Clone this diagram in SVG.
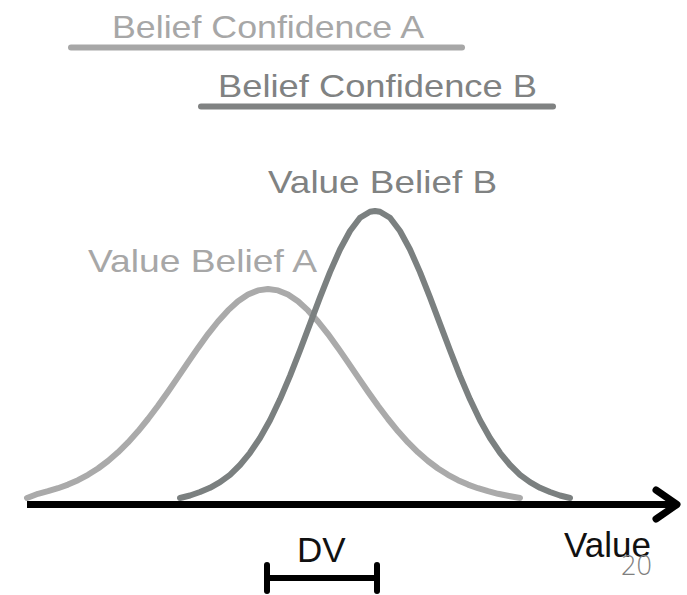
<svg xmlns="http://www.w3.org/2000/svg" width="687" height="595" viewBox="0 0 687 595">
<style>
.lbl{font-family:"Liberation Sans",Arial,sans-serif;font-size:32px}
.ga{fill:#a7a7a7}
.gb{fill:#808282}
.blk{font-family:"Liberation Sans",Arial,sans-serif;font-size:35px;fill:#111}
.curve{fill:none;stroke-width:6;stroke-linejoin:round;stroke-linecap:round}
.bar{stroke-width:6;stroke-linecap:round;fill:none}
</style>
<rect width="687" height="595" fill="#fff"/>
<g id="confA">
<text class="lbl ga" x="112" y="38" textLength="312" lengthAdjust="spacingAndGlyphs">Belief Confidence A</text>
<line class="bar" x1="71" y1="47.5" x2="462" y2="47.5" stroke="#a7a7a7"/>
</g>
<g id="confB">
<text class="lbl gb" x="218" y="97" textLength="319" lengthAdjust="spacingAndGlyphs">Belief Confidence B</text>
<line class="bar" x1="201" y1="106.5" x2="553" y2="106.5" stroke="#808282"/>
</g>
<g id="beliefA">
<text class="lbl ga" x="88" y="272" textLength="229" lengthAdjust="spacingAndGlyphs">Value Belief A</text>
<path class="curve" stroke="#aaaaaa" d="M27,498 L38,493.8 L48,491.2 L58,488.2 L68,484.6 L78,480.2 L88,474.8 L98,468.5 L108,461 L118,452.3 L128,442.4 L138,431.3 L148,419 L158,405.8 L168,391.7 L178,377.1 L188,362.4 L198,347.9 L208,334.1 L218,321.5 L228,310.4 L238,301.3 L248,294.6 L258,290.4 L268,289 L278,290.4 L288,294.6 L298,301.3 L308,310.4 L318,321.5 L328,334.1 L338,347.9 L348,362.4 L358,377.1 L368,391.7 L378,405.8 L388,419 L398,431.3 L408,442.4 L418,452.3 L428,461 L438,468.5 L448,474.8 L458,480.2 L468,484.6 L478,488.2 L488,491.2 L498,493.8 L509,496 L520,498"/>
</g>
<g id="beliefB">
<text class="lbl gb" x="268" y="193" textLength="229" lengthAdjust="spacingAndGlyphs">Value Belief B</text>
<path class="curve" stroke="#7b8080" d="M180,498 L190,495.5 L200,492 L210,487.8 L220,482.2 L230,474.8 L240,465 L250,452.8 L260,438 L270,420.2 L280,399.3 L290,375.8 L300,350.3 L310,323.9 L320,297.4 L330,272.1 L340,249.5 L350,231 L360,217.8 L370,211.8 L375,211 L380,211.8 L390,217.8 L400,231 L410,249.5 L420,272.1 L430,297.4 L440,323.9 L450,350.3 L460,375.8 L470,399.3 L480,420.2 L490,438 L500,452.8 L510,465 L520,474.8 L530,482.2 L540,487.8 L550,492 L560,495.5 L570,498"/>
</g>
<g id="axis">
<line x1="27" y1="504.5" x2="675" y2="504.5" stroke="#000" stroke-width="7"/>
<polyline points="656,490 677,504.5 656,519" fill="none" stroke="#000" stroke-width="7" stroke-linecap="round" stroke-linejoin="round"/>
<text class="blk" x="564" y="557">Value</text>
</g>
<g id="dv">
<text class="blk" x="297" y="562">DV</text>
<line x1="267" y1="578" x2="377" y2="578" stroke="#000" stroke-width="6"/>
<line x1="267" y1="565" x2="267" y2="591" stroke="#000" stroke-width="6" stroke-linecap="round"/>
<line x1="377" y1="565" x2="377" y2="591" stroke="#000" stroke-width="6" stroke-linecap="round"/>
</g>
<text x="621" y="575" style="font-family:'Open Sans',sans-serif;font-weight:300;font-size:27px;fill:#7f7f7f">20</text>
</svg>
